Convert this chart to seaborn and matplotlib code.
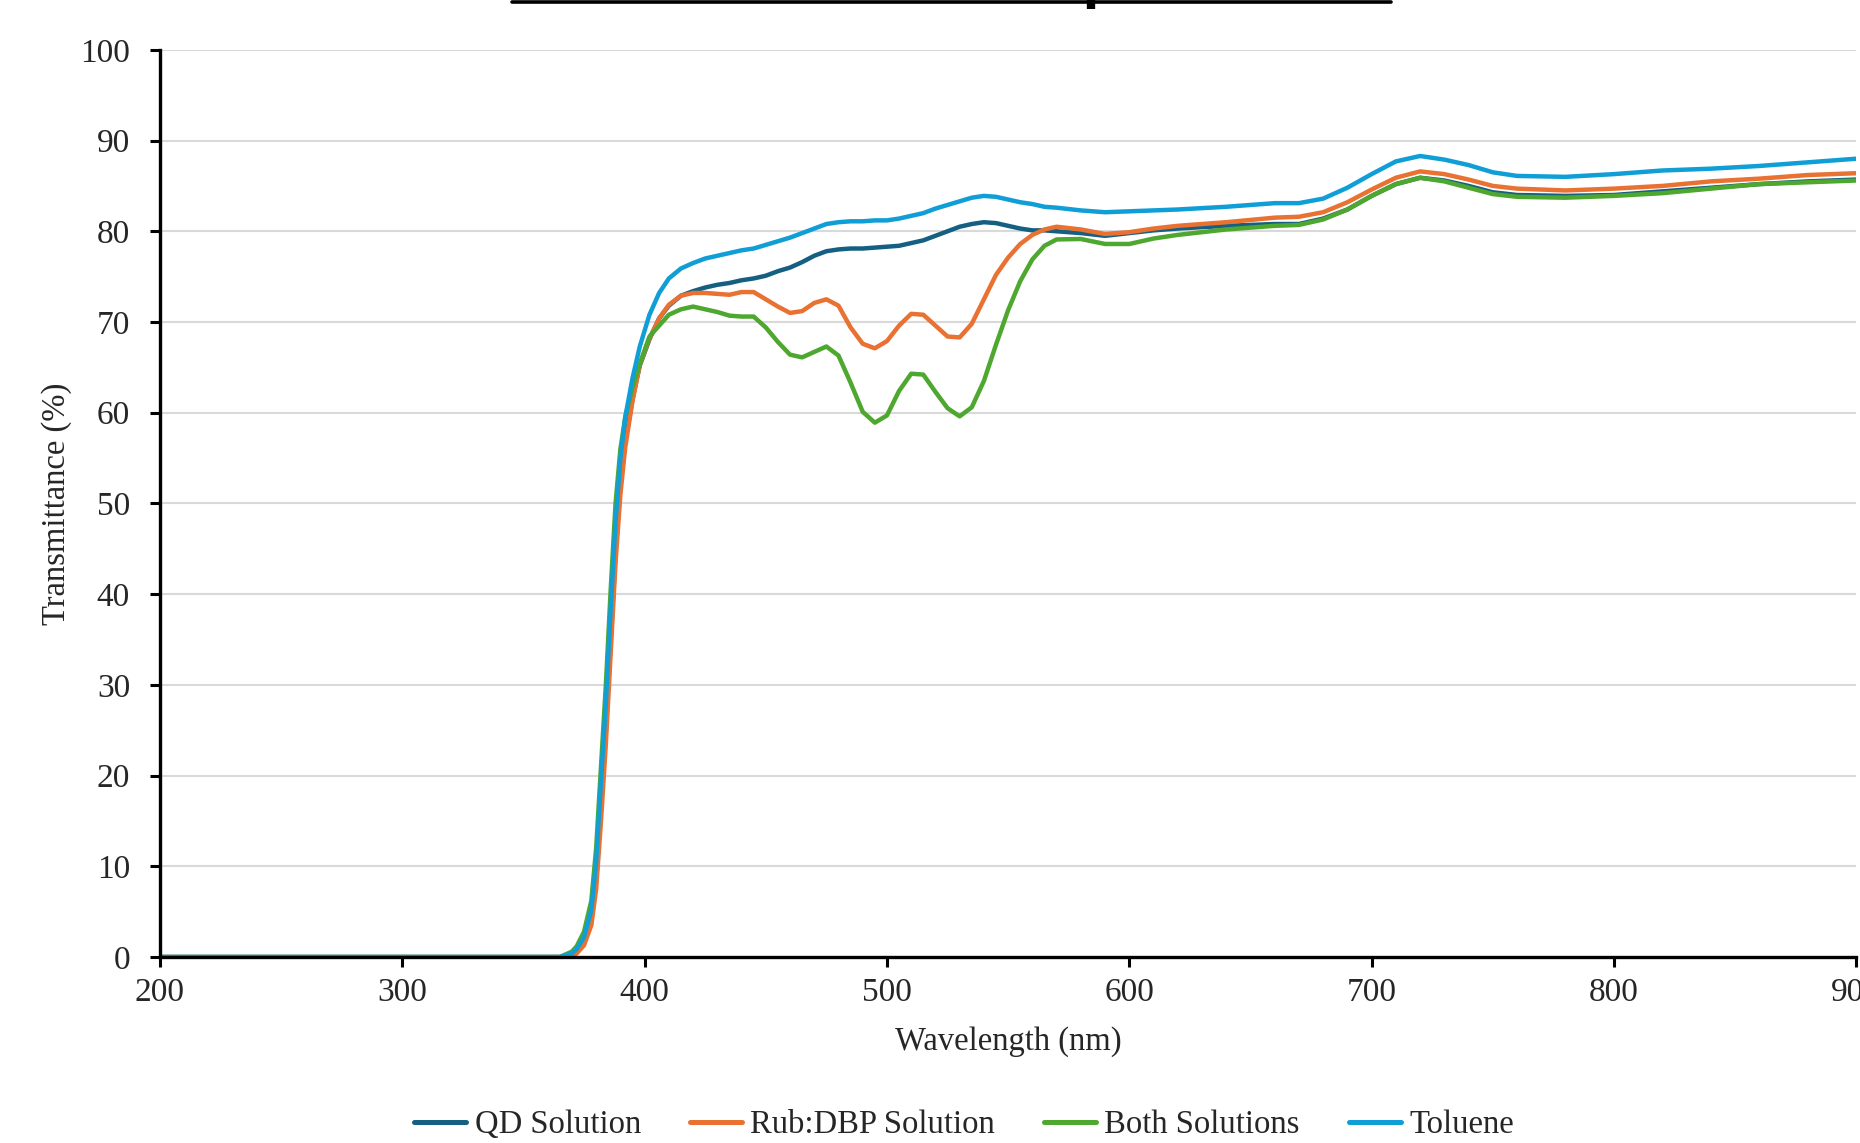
import pandas as pd
import numpy as np
import matplotlib.pyplot as plt
import seaborn as sns
from matplotlib.lines import Line2D

# wavelength grid (nm) shared by all four spectra
wavelength = [200, 365, 370, 372, 375, 378, 380, 382, 384, 386, 388, 390, 392, 395, 398,
              402, 406, 410, 415, 420, 425, 430, 435, 440, 445, 450, 455, 460, 465, 470,
              475, 480, 485, 490, 495, 500, 505, 510, 515, 520, 525, 530, 535, 540, 545,
              550, 555, 560, 565, 570, 580, 590, 600, 610, 620, 640, 660, 670, 680, 690,
              700, 710, 720, 730, 740, 750, 760, 780, 800, 820, 840, 860, 880, 900]

qd_solution = [0, 0, 0.2, 0.6, 1.6, 4.0, 8.5, 16.5, 25, 35, 44.5, 52, 56.8, 61.5, 65.2,
               68.1, 70.4, 71.8, 72.9, 73.4, 73.8, 74.1, 74.3, 74.6, 74.8, 75.1, 75.6, 76.0, 76.6, 77.3,
               77.8, 78.0, 78.1, 78.1, 78.2, 78.3, 78.4, 78.7, 79.0, 79.5, 80.0, 80.5, 80.8, 81.0, 80.9,
               80.6, 80.3, 80.1, 80.1, 80.0, 79.8, 79.5, 79.8, 80.1, 80.3, 80.6, 80.8, 80.8, 81.4, 82.4,
               83.9, 85.2, 85.9, 85.6, 85.0, 84.3, 84.0, 83.9, 84.0, 84.4, 84.8, 85.2, 85.5, 85.7]

rub_dbp_solution = [0, 0, 0.1, 0.4, 1.3, 3.5, 7.5, 15, 23.5, 33.5, 43.5, 51, 56.2, 61.3, 65.3,
                    68.2, 70.4, 71.9, 72.9, 73.2, 73.2, 73.1, 73.0, 73.3, 73.3, 72.5, 71.7, 71.0, 71.2, 72.1,
                    72.5, 71.8, 69.4, 67.6, 67.1, 67.9, 69.6, 70.9, 70.8, 69.6, 68.4, 68.3, 69.8, 72.5, 75.2,
                    77.1, 78.6, 79.6, 80.2, 80.5, 80.2, 79.7, 79.9, 80.3, 80.6, 81.0, 81.5, 81.6, 82.1, 83.2,
                    84.6, 85.9, 86.6, 86.3, 85.7, 85.0, 84.7, 84.5, 84.7, 85.0, 85.5, 85.8, 86.2, 86.4]

both_solutions = [0, 0, 0.6, 1.2, 2.8, 6.2, 12, 21, 30, 40.5, 50, 56, 59.5, 62.8, 65.4,
                  68.4, 69.6, 70.8, 71.4, 71.7, 71.4, 71.1, 70.7, 70.6, 70.6, 69.4, 67.8, 66.4, 66.1, 66.7,
                  67.3, 66.3, 63.3, 60.1, 58.9, 59.7, 62.4, 64.3, 64.2, 62.3, 60.5, 59.6, 60.6, 63.5, 67.5,
                  71.3, 74.5, 76.9, 78.4, 79.1, 79.15, 78.6, 78.6, 79.2, 79.6, 80.2, 80.6, 80.7, 81.3, 82.4,
                  83.9, 85.2, 85.9, 85.5, 84.8, 84.1, 83.8, 83.7, 83.9, 84.2, 84.7, 85.2, 85.4, 85.6]

toluene = [0, 0, 0.4, 0.9, 2.2, 5.2, 10.5, 19.5, 28, 38.5, 48, 55, 59.5, 63.8, 67.3,
           70.8, 73.2, 74.8, 75.9, 76.5, 77.0, 77.3, 77.6, 77.9, 78.1, 78.5, 78.9, 79.3, 79.8, 80.3,
           80.8, 81.0, 81.1, 81.1, 81.2, 81.2, 81.4, 81.7, 82.0, 82.5, 82.9, 83.3, 83.7, 83.9, 83.8,
           83.5, 83.2, 83.0, 82.7, 82.6, 82.3, 82.1, 82.2, 82.3, 82.4, 82.7, 83.1, 83.1, 83.6, 84.8,
           86.3, 87.7, 88.3, 87.9, 87.3, 86.5, 86.1, 86.0, 86.3, 86.7, 86.9, 87.2, 87.6, 88.0]

series_names = ['QD Solution', 'Rub:DBP Solution', 'Both Solutions', 'Toluene']
series_colors = ['#156082', '#E97132', '#4EA72E', '#0F9ED5']
y_ticks = list(range(0, 101, 10))
x_ticks = list(range(200, 901, 100))

frames = []
for name, vals in zip(series_names, [qd_solution, rub_dbp_solution, both_solutions, toluene]):
    frames.append(pd.DataFrame({'Wavelength': wavelength, 'Transmittance': vals, 'Sample': name}))
df = pd.concat(frames, ignore_index=True)

sns.set_style('white')
plt.rcParams['font.family'] = ['Liberation Serif', 'DejaVu Serif']

fig = plt.figure(figsize=(18.6, 11.43), dpi=100)
ax = fig.add_axes([0.086, 0.1627, 0.912, 0.7937])

ax.grid(axis='y', color='#d9d9d9', linewidth=1.5)
ax.set_axisbelow(True)

sns.lineplot(data=df, x='Wavelength', y='Transmittance', hue='Sample',
             palette=dict(zip(series_names, series_colors)), hue_order=series_names,
             estimator=None, sort=False, linewidth=3.2, ax=ax)

ax.set_xlim(200, 900)
ax.set_ylim(0, 100)
ax.set_xticks(x_ticks)
ax.set_yticks(y_ticks)
ax.tick_params(axis='both', labelsize=24, length=7.5, width=2.2, direction='out', color='black',
               bottom=True, left=True)
ax.tick_params(axis='y', pad=14)
ax.tick_params(axis='x', pad=7)

for side in ['top', 'right']:
    ax.spines[side].set_visible(False)
for side in ['left', 'bottom']:
    ax.spines[side].set_color('black')
    ax.spines[side].set_linewidth(2.4)
    ax.spines[side].set_zorder(5)

ax.set_xlabel('Wavelength (nm)', fontsize=23.5)
ax.set_ylabel('Transmittance (%)', fontsize=23.5)
ax.xaxis.set_label_coords(0.5, -0.076)
ax.yaxis.set_label_coords(-0.052, 0.5)

sns.move_legend(ax, 'center', bbox_to_anchor=(0.474, -0.185), ncol=4, frameon=False,
                title=None, fontsize=23.5, handlelength=1.6, handletextpad=0.25,
                columnspacing=1.5)
for line in ax.get_legend().get_lines():
    line.set_linewidth(3.6)

# piece of the chart above, visible at the top edge
fig.add_artist(Line2D([512 / 1860, 1391 / 1860], [1 - 1.5 / 1143, 1 - 1.5 / 1143],
                      transform=fig.transFigure, color='black', linewidth=2.6))
fig.add_artist(Line2D([1091 / 1860, 1091 / 1860], [1.0, 1 - 9 / 1143],
                      transform=fig.transFigure, color='black', linewidth=6, solid_capstyle='butt'))

fig.savefig('out.png', dpi=100)
